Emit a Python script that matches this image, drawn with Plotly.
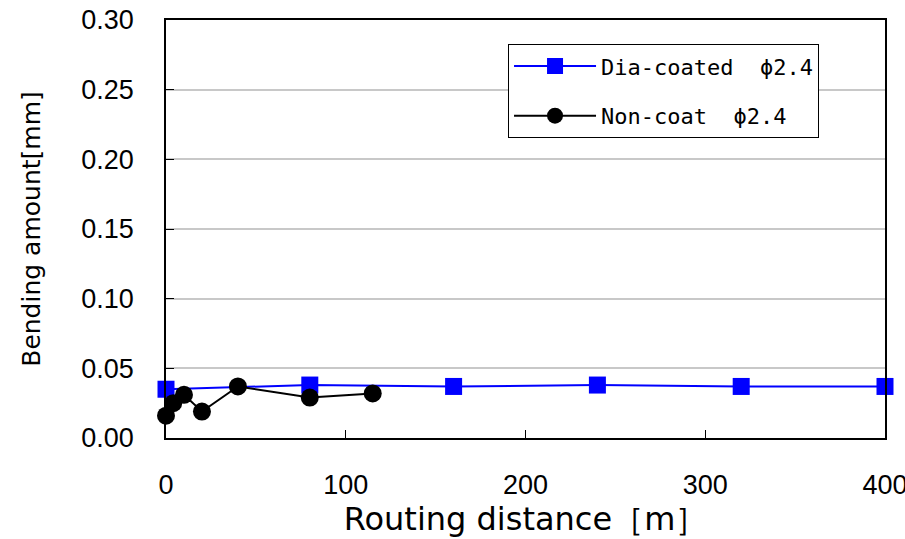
import plotly.graph_objects as go

dia_x = [0, 80, 160, 240, 320, 400]
dia_y = [0.035, 0.038, 0.037, 0.038, 0.037, 0.037]
non_x = [0, 4, 10, 20, 40, 80, 115]
non_y = [0.016, 0.025, 0.031, 0.019, 0.037, 0.029, 0.032]

x_ticks = [0, 100, 200, 300, 400]
y_ticks = [0.00, 0.05, 0.10, 0.15, 0.20, 0.25, 0.30]

fig = go.Figure()
fig.add_trace(go.Scatter(x=dia_x, y=dia_y, mode="lines+markers", name="Dia-coated\u00a0\u00a0ϕ2.4",
                         legendgroup="a",
                         line=dict(color="#0000FF", width=2),
                         marker=dict(symbol="square", size=17, color="#0000FF")))
fig.add_trace(go.Scatter(x=non_x, y=non_y, mode="lines+markers", name="Non-coat\u00a0\u00a0ϕ2.4",
                         legendgroup="b",
                         line=dict(color="#000000", width=2),
                         marker=dict(symbol="circle", size=18, color="#000000")))

font_main = "Liberation Sans, Arial, sans-serif"
fig.update_layout(
    width=905, height=539,
    margin=dict(l=166, r=20, t=20, b=101),
    plot_bgcolor="white", paper_bgcolor="white",
    font=dict(family=font_main, color="black", size=27),
    showlegend=True,
    legend=dict(x=0.4757, y=0.942, xanchor="left", yanchor="top",
                bgcolor="white", bordercolor="black", borderwidth=1,
                font=dict(family="DejaVu Sans Mono, monospace", size=22),
                itemwidth=82, traceorder="grouped", tracegroupgap=18),
    xaxis=dict(range=[0, 400], tickvals=x_ticks, ticks="inside", ticklen=8,
               tickcolor="black", showline=True, linecolor="black", linewidth=1.5,
               mirror=True, showgrid=False, zeroline=False, automargin=False,
               tickfont=dict(size=27), ticklabelstandoff=22, ticklabeloverflow="allow",
               title=dict(text="\u2002Routing distance［m］",
                          font=dict(size=32, family="DejaVu Sans, sans-serif"), standoff=8)),
    yaxis=dict(range=[0, 0.30], tickvals=y_ticks, tickformat=".2f", ticks="inside", ticklen=8,
               tickcolor="black", showline=True, linecolor="black", linewidth=1.5,
               mirror=True, showgrid=True, gridcolor="#C8C8C8", gridwidth=1.5, zeroline=False,
               automargin=False, tickfont=dict(size=27), ticklabelstandoff=25,
               ticklabeloverflow="allow",
               title=dict(text="Bending amount[mm]",
                          font=dict(size=25, family="DejaVu Sans, sans-serif"), standoff=34)),
)
fig.update_traces(cliponaxis=False)

# remove the default page margin so the figure sits at the window's top-left corner
fig.write_html("out.html", config={"displayModeBar": False},
               post_script="document.body.style.margin='0';document.body.style.overflow='hidden';")
